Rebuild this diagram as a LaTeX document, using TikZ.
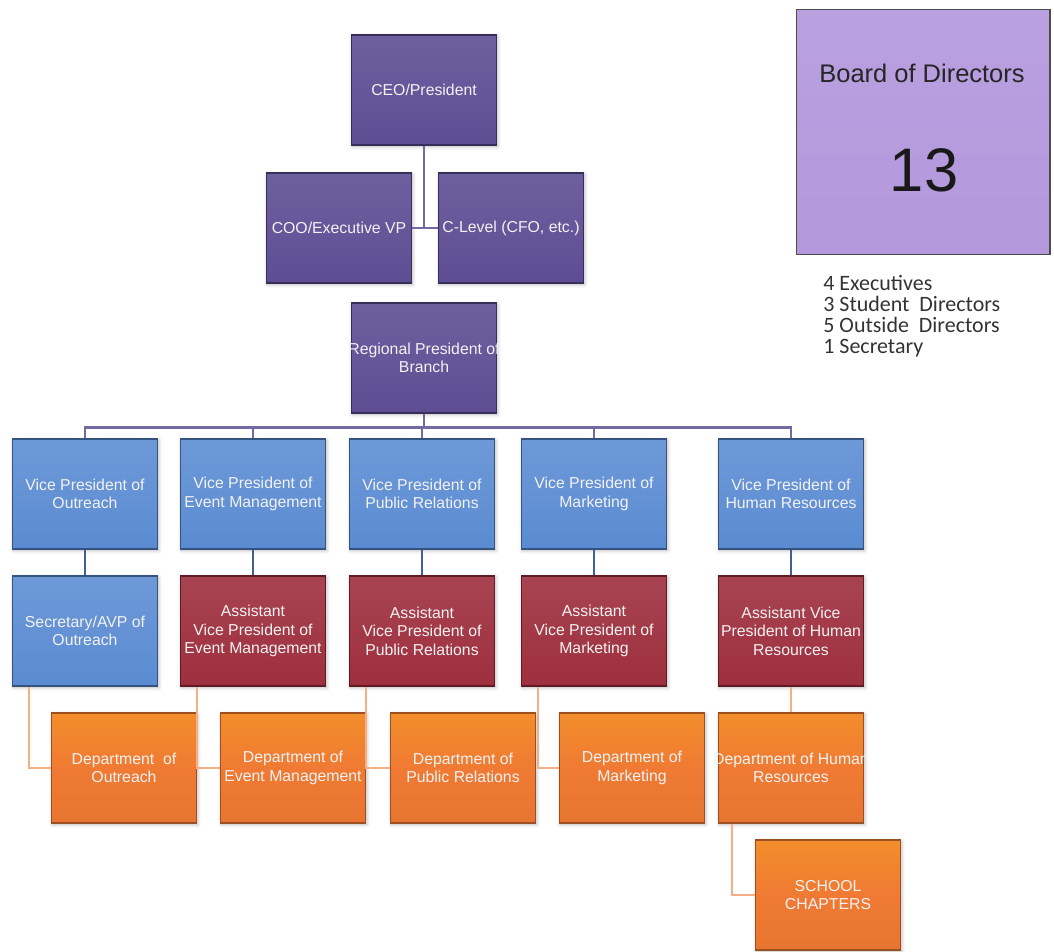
\documentclass[tikz,border=0pt]{standalone}
\usepackage{xcolor}
\usepackage{fontspec}
\setmainfont{Liberation Sans}
\newfontfamily\listfont{Carlito}
\definecolor{mpurple}{HTML}{5D4E94}
\definecolor{mlav}{HTML}{B398DC}
\definecolor{mblue}{HTML}{5A8BD2}
\definecolor{mred}{HTML}{9E2F3E}
\definecolor{morange}{HTML}{F07A33}
\usepackage{tikz}
\usetikzlibrary{calc,shadows.blur}

\tikzset{
  orgbox/.style={rectangle, minimum width=2.9cm, minimum height=2.2cm,
    inner sep=1pt, align=center, text=white!90!gray,
    font=\fontsize{9}{10.5}\selectfont, line width=0.6pt,
    blur shadow={shadow blur steps=5, shadow xshift=0.6pt, shadow yshift=-0.8pt, shadow opacity=30}},
  topbox/.style={orgbox, top color=mpurple!90!white, bottom color=mpurple, draw=mpurple!60!black},
  vpbox/.style={orgbox, top color=mblue!88!white, bottom color=mblue, draw=mblue!60!black},
  avpbox/.style={orgbox, top color=mred!90!white, bottom color=mred, draw=mred!60!black},
  depbox/.style={orgbox, top color=morange!85!yellow, bottom color=morange!96!black, middle color=morange, draw=morange!65!black},
  pline/.style={draw=mpurple!85!white, line width=1.4pt},
  bline/.style={draw=mblue!70!black, line width=1.2pt},
  oline/.style={draw=morange!60!white, line width=1.2pt},
}

\begin{document}
\begin{tikzpicture}[x=0.02cm, y=-0.02cm]
    % Define parameters
    \def\rowvp{494}     % y of the vice presidents
    \def\rowavp{631}    % y of the assistants
    \def\rowdep{768}    % y of the departments
    \def\off{17}        % offset of the elbow connectors

    \useasboundingbox (0,0) rectangle (1054,952);

    % Top of the chart
    \node[topbox] (ceo) at (424,90) {CEO/President};
    \node[topbox] (coo) at (339,228) {COO/Executive VP};
    \node[topbox] (clevel) at (511,228) {C-Level (CFO, etc.)};
    \node[topbox] (reg) at (424,358) {\makebox[2.7cm]{Regional President of}\\Branch};

    % Board of directors
    \node[rectangle, minimum width=5.08cm, minimum height=4.9cm, draw=black!70,
          line width=0.6pt, top color=mlav!92!white, bottom color=mlav] (board) at (923,132) {};
    \node[font=\fontsize{14.5}{16}\selectfont, text=black!85] (bdtitle) at (922,73) {Board of Directors};
    \node[font=\fontsize{35}{35}\selectfont, text=black!90] (bdnum) at (924,170) {13};
    \node[anchor=north west, align=left, text=black!80, inner sep=0pt,
          font=\listfont\fontsize{12.5}{12}\selectfont] (members) at (823,275)
          {4 Executives\\3 Student~~Directors\\5 Outside~~Directors\\1 Secretary};

    % Vice presidents
    \node[vpbox] (vpout) at (85,\rowvp) {Vice President of\\Outreach};
    \node[vpbox] (vpevent) at (253,\rowvp) {Vice President of\\Event Management};
    \node[vpbox] (vppr) at (422,\rowvp) {Vice President of\\Public Relations};
    \node[vpbox] (vpmkt) at (594,\rowvp) {Vice President of\\Marketing};
    \node[vpbox] (vphr) at (791,\rowvp) {Vice President of\\Human Resources};

    % Assistants
    \node[vpbox] (secout) at (85,\rowavp) {Secretary/AVP of\\Outreach};
    \node[avpbox] (avpevent) at (253,\rowavp) {Assistant\\Vice President of\\Event Management};
    \node[avpbox] (avppr) at (422,\rowavp) {Assistant\\Vice President of\\Public Relations};
    \node[avpbox] (avpmkt) at (594,\rowavp) {Assistant\\Vice President of\\Marketing};
    \node[avpbox] (avphr) at (791,\rowavp) {Assistant Vice\\President of Human\\Resources};

    % Departments
    \node[depbox] (depout) at (124,\rowdep) {Department\ \ of\\Outreach};
    \node[depbox] (depevent) at (293,\rowdep) {Department of\\Event Management};
    \node[depbox] (deppr) at (463,\rowdep) {Department of\\Public Relations};
    \node[depbox] (depmkt) at (632,\rowdep) {Department of\\Marketing};
    \node[depbox] (dephr) at (791,\rowdep) {\makebox[2.6cm]{Department of Human}\\Resources};
    \node[depbox] (school) at (828,895) {SCHOOL\\CHAPTERS};

    % Connectors at the top
    \draw[pline] (ceo.south) |- (coo.east);
    \draw[pline] (ceo.south) |- (clevel.west);

    % Bus under the regional president
    \coordinate (bus) at ($(reg.south)+(0,14)$);
    \draw[pline] (reg.south) -- (bus);
    \foreach \v in {vpout,vpevent,vppr,vpmkt,vphr}
        \draw[pline] (bus) -| (\v.north);

    % Vice presidents to assistants
    \foreach \a/\b in {vpout/secout,vpevent/avpevent,vppr/avppr,vpmkt/avpmkt,vphr/avphr}
        \draw[bline] (\a.south) -- (\b.north);

    % Assistants to departments
    \foreach \a/\b in {secout/depout,avpevent/depevent,avppr/deppr,avpmkt/depmkt}
        \draw[oline] ($(\a.south west)+(\off,0)$) |- (\b.west);
    \draw[oline] (avphr.south) -- (dephr.north);
    \draw[oline] ($(dephr.south west)+(14,0)$) |- (school.west);
\end{tikzpicture}
\end{document}
